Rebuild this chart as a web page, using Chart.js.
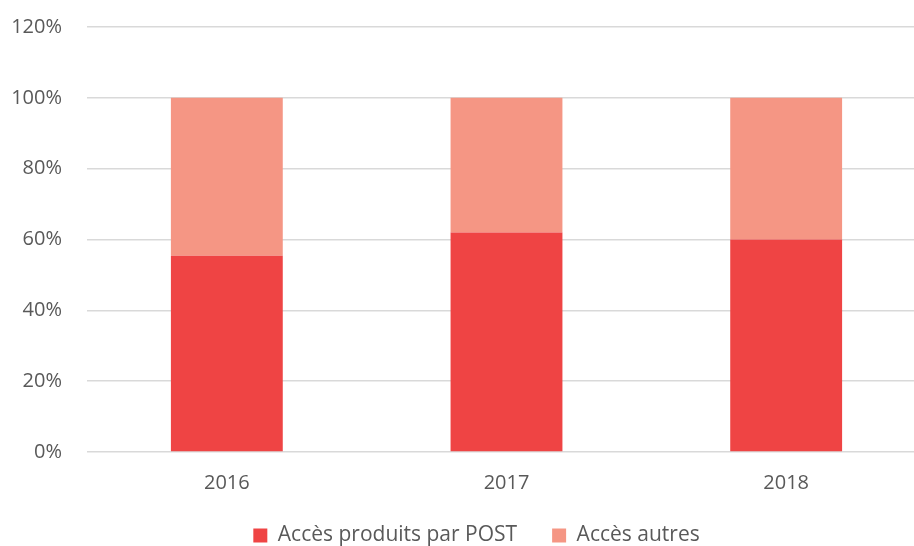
<!DOCTYPE html>
<html>
<head>
<meta charset="utf-8">
<script src="https://cdn.jsdelivr.net/npm/chart.js@4"></script>
<style>
  html, body { margin: 0; padding: 0; background: #fff; overflow: hidden; }
  #wrap { width: 914px; height: 546px; overflow: hidden; }
</style>
</head>
<body>
<div id="wrap"><canvas id="chart_acces" width="926" height="546"></canvas></div>
<script>
var years = ['2016', '2017', '2018'];
var acces_post = [0.554, 0.62, 0.60];
var acces_autres = [0.446, 0.38, 0.40];
var y_ticks = [0, 0.2, 0.4, 0.6, 0.8, 1.0, 1.2];

// move the legend a bit, like in the original picture
var legend_shift = {
  id: 'legend_shift',
  afterLayout: function(chart) {
    var lg = chart.legend;
    var h = lg.bottom - lg.top;
    lg.left += 10;
    lg.right += 10;
    lg.top = 490;
    lg.bottom = 490 + h;
  }
};

var config_acces = {
  type: 'bar',
  data: {
    labels: years,
    datasets: [
      {
        label: 'Accès produits par POST',
        data: acces_post,
        backgroundColor: '#ef4444',
        categoryPercentage: 1,
        barPercentage: 0.40,
      },
      {
        label: 'Accès autres',
        data: acces_autres,
        backgroundColor: '#f59684',
        categoryPercentage: 1,
        barPercentage: 0.40,
      }
    ],
  },
  options: {
    responsive: false,
    animation: false,
    layout: {
      padding: { top: 27, right: 0, left: 7, bottom: -26 },
    },
    scales: {
      x: {
        stacked: true,
        grid: { display: false },
        border: { display: false },
        ticks: {
          color: '#595959',
          font: { family: 'Open Sans', size: 20 },
          padding: 11,
        },
      },
      y: {
        stacked: true,
        min: 0,
        max: 1.2,
        afterBuildTicks: function(axis) {
          axis.ticks = y_ticks.map(function(v) { return { value: v }; });
        },
        afterFit: function(axis) {
          axis.width = 80;
        },
        grid: {
          color: '#d9d9d9',
          lineWidth: 1.5,
          drawTicks: true,
          tickLength: 25,
          tickColor: 'rgba(0,0,0,0)',
        },
        border: { display: false },
        ticks: {
          color: '#595959',
          font: { family: 'Open Sans', size: 20 },
          padding: 0,
          callback: function(value) {
            return Math.round(value * 100) + '%';
          },
        },
      },
    },
    plugins: {
      legend: {
        position: 'bottom',
        labels: {
          color: '#595959',
          font: { family: 'Open Sans', size: 21 },
          boxWidth: 14,
          boxHeight: 14,
          padding: 35,
        },
      },
      tooltip: { enabled: false },
    },
  },
  plugins: [legend_shift]
};

var chart_acces = new Chart(document.getElementById('chart_acces'), config_acces);
</script>
</body>
</html>
